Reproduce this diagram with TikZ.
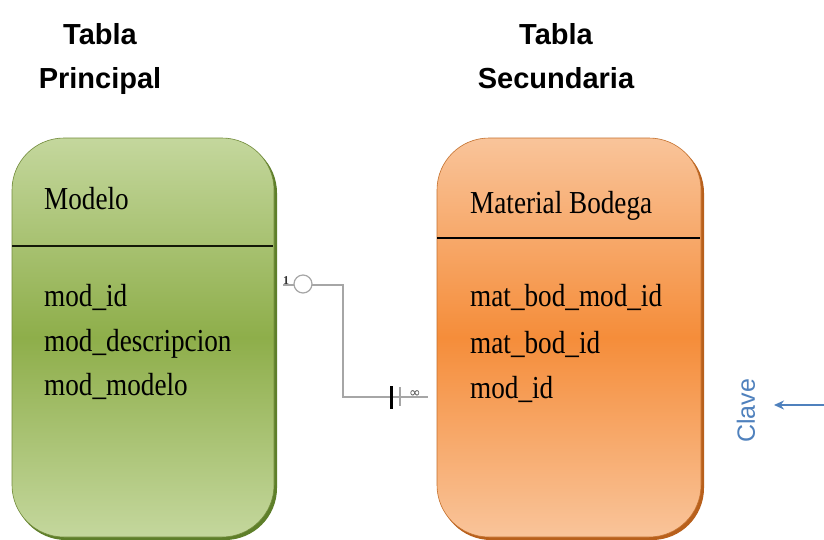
\documentclass[tikz,border=0pt]{standalone}
\usepackage{fontspec}
\setmainfont{Liberation Serif}
\newfontfamily\fieldfont[FakeStretch=0.85]{Liberation Serif}
\newfontfamily\titlefont{Liberation Sans}
\newfontfamily\symfont{DejaVu Sans}
\usetikzlibrary{arrows.meta}
\definecolor{gTop}{HTML}{C4D79D}
\definecolor{gMid}{HTML}{8EAE4A}
\definecolor{gEdge}{HTML}{5E7F2A}
\definecolor{oTop}{HTML}{F9C49A}
\definecolor{oMid}{HTML}{F58D3A}
\definecolor{oEdge}{HTML}{B8601C}
\definecolor{clave}{HTML}{4F81BD}
\definecolor{conn}{HTML}{A6A6A6}
\tikzset{
  fieldtxt/.style={anchor=base west, inner sep=0pt, font=\fieldfont\fontsize{32}{36}\selectfont, text=black},
  titletxt/.style={anchor=base, inner sep=0pt, font=\titlefont\bfseries\fontsize{29}{32}\selectfont},
  conline/.style={draw=conn, line width=1.5pt},
}
\begin{document}
\begin{tikzpicture}[x=1pt,y=-1pt]
\useasboundingbox (0,0) rectangle (824,539);
\fill[white] (0,0) rectangle (824,539);
% titles
\node[titletxt] (t1a) at (100,44) {Tabla};
\node[titletxt] (t1b) at (100,88) {Principal};
\node[titletxt] (t2a) at (556,44) {Tabla};
\node[titletxt] (t2b) at (556,88) {Secundaria};
% green box
\fill[gEdge, rounded corners=52pt] (14,141) rectangle (277,540);
\shade[top color=gTop, bottom color=gTop, middle color=gMid, draw=gMid!80!black, line width=0.6pt, rounded corners=52pt] (12,138) rectangle (274,537);
\draw[black!80!gEdge, line width=2.2pt] (12,246) -- (273,246);
% orange box
\fill[oEdge, rounded corners=52pt] (439,141) rectangle (704,540);
\shade[top color=oTop, bottom color=oTop, middle color=oMid, draw=oMid!80!black, line width=0.6pt, rounded corners=52pt] (437,138) rectangle (701,537);
\draw[black, line width=2pt] (437,238) -- (700,238);
% texts
\node[fieldtxt] (mh) at (44,209) {Modelo};
\node[fieldtxt] (m1) at (44,306) {mod\_id};
\node[fieldtxt] (m2) at (44,351) {mod\_descripcion};
\node[fieldtxt] (m3) at (44,395) {mod\_modelo};
\node[fieldtxt] (bh) at (470,213) {Material Bodega};
\node[fieldtxt] (b1) at (470,306) {mat\_bod\_mod\_id};
\node[fieldtxt] (b2) at (470,353) {mat\_bod\_id};
\node[fieldtxt] (b3) at (470,398) {mod\_id};
% relationship connector
\coordinate (c1) at (283,285);
\coordinate (c2) at (428,397);
\draw[conline] (c1) -- ++(60,0) |- (c2);
\node[circle, draw=conn, line width=1.2pt, fill=white, minimum size=18pt, inner sep=0pt] (circ) at (303,284) {};
\node[inner sep=0pt, font=\fontsize{12}{12}\selectfont\bfseries, text=black!80] (one) at (286,281) {1};
\draw[black, line width=3pt] (391,386) -- (391,409);
\draw[conn, line width=1.2pt] (400,387) -- (400,406);
\node[inner sep=0pt, font=\symfont\fontsize{14}{14}\selectfont, text=black!70] (inf) at (415,394) {∞};
% clave
\node[inner sep=0pt, rotate=90, text=clave, font=\titlefont\fontsize{25}{28}\selectfont] (cl) at (746,411) {Clave};
\coordinate (ar) at (824,405);
\draw[clave, line width=2.5pt, -{Stealth[length=10pt,width=9pt]}] (ar) -- (774,405);
\end{tikzpicture}
\end{document}
